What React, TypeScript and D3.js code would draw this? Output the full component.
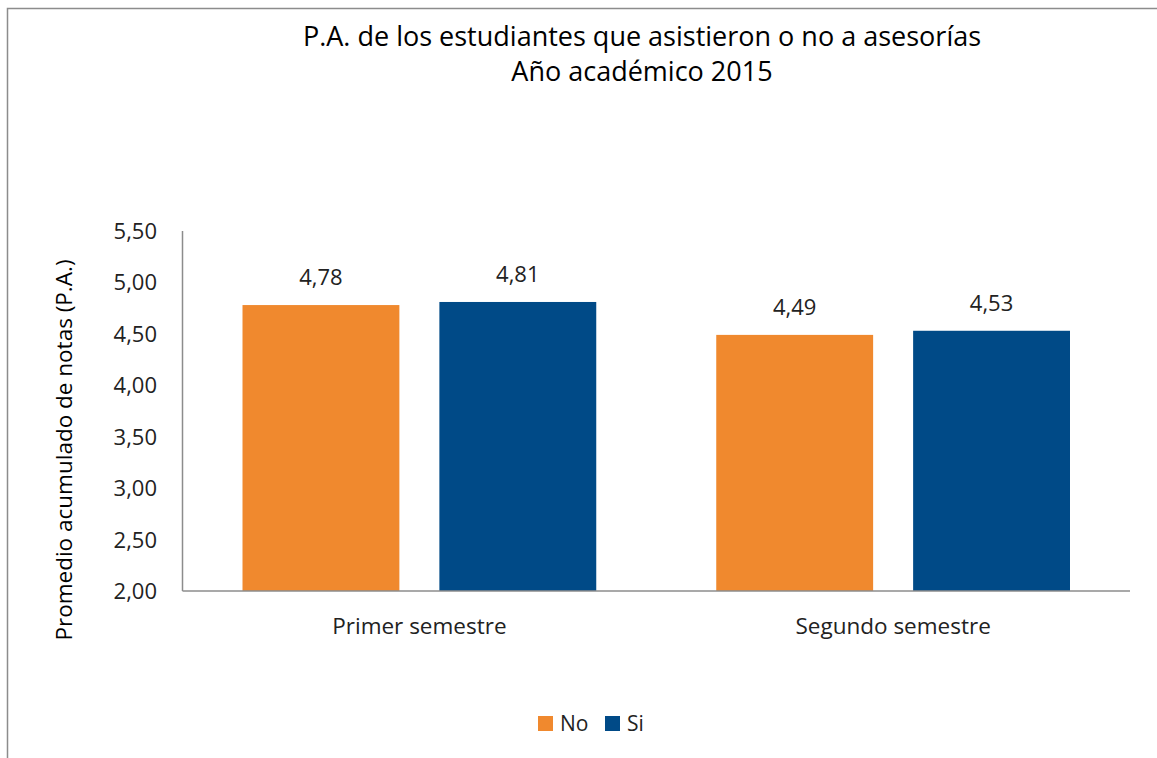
import React from "react";
import * as d3 from "d3";

const categories = ["Primer semestre", "Segundo semestre"];
const seriesNames = ["No", "Si"];
const seriesNo = [4.78, 4.49];
const seriesSi = [4.81, 4.53];
const yTicks = [2.0, 2.5, 3.0, 3.5, 4.0, 4.5, 5.0, 5.5];
const colors = ["#F0892E", "#004A87"];

const W = 1157;
const H = 758;
const FONT = "'Open Sans', 'Noto Sans', sans-serif";

export default function App() {
  const left = 182.5;
  const right = 1130;
  const top = 231;
  const bottom = 591;

  const x0 = d3.scaleBand<string>().domain(categories).range([left, right]).paddingInner(0).paddingOuter(0);
  const y = d3.scaleLinear().domain([2, 5.5]).range([bottom, top]);
  const catW = x0.bandwidth();
  const outerPad = 60;
  const inner = catW - 2 * outerPad;
  const gap = 40;
  const step = (inner + gap) / 2;
  const x1 = d3
    .scaleBand<string>()
    .domain(seriesNames)
    .range([outerPad, catW - outerPad])
    .paddingInner(gap / step)
    .paddingOuter(0);

  const series = [seriesNo, seriesSi];
  const fmt = (v: number) => v.toFixed(2).replace(".", ",");

  return (
    <svg width={W} height={H} style={{ position: "absolute", left: 0, top: 0, background: "#fff" }}>
      <rect x={7.5} y={8.5} width={W + 10} height={H + 10} fill="#fff" stroke="#8c8c8c" strokeWidth={1.5} />
      <text x={642} y={46} textAnchor="middle" fontFamily={FONT} fontSize={27} fill="#000">
        P.A. de los estudiantes que asistieron o no a asesorías
      </text>
      <text x={642} y={81} textAnchor="middle" fontFamily={FONT} fontSize={27} fill="#000">
        Año académico 2015
      </text>

      {yTicks.map((t) => (
        <text key={t} x={157} y={y(t) + 8} textAnchor="end" fontFamily={FONT} fontSize={22} fill="#222">
          {fmt(t)}
        </text>
      ))}

      {categories.map((c, ci) =>
        series.map((s, si) => {
          const bx = (x0(c) as number) + (x1(seriesNames[si]) as number);
          const bw = x1.bandwidth();
          return (
            <g key={c + si}>
              <rect x={bx} y={y(s[ci])} width={bw} height={bottom - y(s[ci])} fill={colors[si]} />
              <text
                x={bx + bw / 2}
                y={y(s[ci]) - 20}
                textAnchor="middle"
                fontFamily={FONT}
                fontSize={22}
                fill="#222"
              >
                {fmt(s[ci])}
              </text>
            </g>
          );
        })
      )}

      <line x1={left} x2={left} y1={top} y2={bottom} stroke="#8c8c8c" strokeWidth={1.5} />
      <line x1={left} x2={right} y1={bottom} y2={bottom} stroke="#8c8c8c" strokeWidth={1.5} />

      {categories.map((c) => (
        <text
          key={c}
          x={(x0(c) as number) + catW / 2}
          y={634}
          textAnchor="middle"
          fontFamily={FONT}
          fontSize={22.5}
          fill="#222"
        >
          {c}
        </text>
      ))}

      <text
        transform={`translate(72, ${450}) rotate(-90)`}
        textAnchor="middle"
        fontFamily={FONT}
        fontSize={22.5}
        fill="#000"
      >
        Promedio acumulado de notas (P.A.)
      </text>

      {seriesNames.map((n, i) => {
        const lx = [538, 605][i];
        return (
          <g key={n}>
            <rect x={lx} y={716} width={15} height={15} fill={colors[i]} />
            <text x={lx + 22} y={731} fontFamily={FONT} fontSize={21} fill="#222">
              {n}
            </text>
          </g>
        );
      })}
    </svg>
  );
}
